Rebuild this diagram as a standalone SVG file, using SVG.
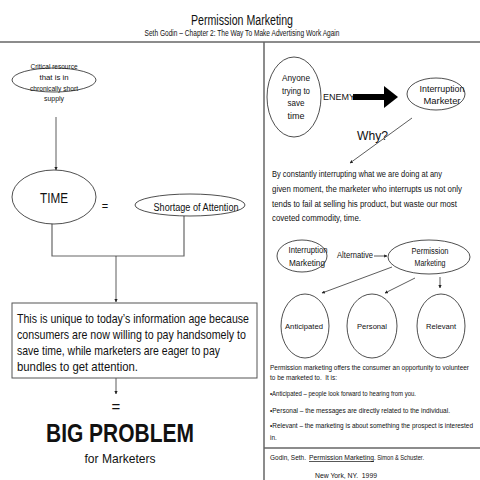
<svg xmlns="http://www.w3.org/2000/svg" width="480" height="480" viewBox="0 0 480 480">
<style>
text{font-family:"Liberation Sans",Arial,sans-serif;fill:#111}
.n{fill:#fff;stroke:#222;stroke-width:0.8}
.d{stroke:#666;stroke-width:1.5;fill:none}
.c{stroke:#333;stroke-width:0.8;fill:none}
</style>
<defs>
<marker id="a" viewBox="0 0 10 10" refX="9" refY="5" markerWidth="4" markerHeight="4" orient="auto"><path d="M0,0 L10,5 L0,10 z" fill="#222"/></marker>
</defs>
<rect width="480" height="480" fill="#fff"/>
<g id="title">
<text x="242" y="25" font-size="14" text-anchor="middle" textLength="102" lengthAdjust="spacingAndGlyphs">Permission Marketing</text>
<text x="242" y="36" font-size="8.5" text-anchor="middle" textLength="195" lengthAdjust="spacingAndGlyphs">Seth Godin – Chapter 2: The Way To Make Advertising Work Again</text>
</g>
<g id="dividers">
<line class="d" x1="0" y1="42" x2="480" y2="42"/>
<line class="d" x1="264" y1="42" x2="264" y2="480"/>
<line class="d" x1="264" y1="448" x2="480" y2="448"/>
</g>
<g id="connectors">
<line class="c" x1="56" y1="117" x2="56" y2="170" marker-end="url(#a)"/>
<polyline class="d" points="52,223 52,256 184,256 184,216" style="stroke-width:1.2"/>
<line class="c" x1="116" y1="256" x2="116" y2="302" marker-end="url(#a)"/>
<line class="c" x1="116" y1="378" x2="116" y2="394" marker-end="url(#a)"/>
<line x1="353" y1="97" x2="386" y2="97" stroke="#000" stroke-width="6"/>
<polygon points="384,86 398,97 384,108" fill="#000"/>
<line class="c" x1="412" y1="118" x2="350" y2="163" marker-end="url(#a)"/>
<line class="c" x1="374" y1="256" x2="387" y2="256" marker-end="url(#a)"/>
<line class="c" x1="392" y1="267" x2="322" y2="293" marker-end="url(#a)"/>
<line class="c" x1="415" y1="278" x2="385" y2="293" marker-end="url(#a)"/>
<line class="c" x1="440" y1="277" x2="440" y2="288" marker-end="url(#a)"/>
</g>
<g id="critical">
<ellipse class="n" cx="54" cy="80" rx="42" ry="12"/>
<text x="54" y="69" font-size="8" text-anchor="middle" textLength="47" lengthAdjust="spacingAndGlyphs">Critical resource</text>
<text x="54" y="80" font-size="8" text-anchor="middle" textLength="29" lengthAdjust="spacingAndGlyphs">that is in</text>
<text x="54" y="91" font-size="8" text-anchor="middle" textLength="48" lengthAdjust="spacingAndGlyphs">chronically short</text>
<text x="54" y="101" font-size="8" text-anchor="middle" textLength="20" lengthAdjust="spacingAndGlyphs">supply</text>
</g>
<g id="time">
<ellipse class="n" cx="54" cy="197" rx="42" ry="27"/>
<text x="54" y="203" font-size="14" text-anchor="middle" textLength="28" lengthAdjust="spacingAndGlyphs">TIME</text>
</g>
<g id="eq1"><text x="105" y="210" font-size="11" text-anchor="middle">=</text></g>
<g id="shortage">
<ellipse class="n" cx="190" cy="205" rx="55" ry="11"/>
<text x="196" y="211" font-size="10" text-anchor="middle" textLength="85" lengthAdjust="spacingAndGlyphs">Shortage of Attention</text>
</g>
<g id="unique">
<rect x="12" y="303" width="245" height="75" fill="#fff" stroke="#555" stroke-width="1"/>
<text x="17" y="323" font-size="13.5" textLength="232" lengthAdjust="spacingAndGlyphs">This is unique to today’s information age because</text>
<text x="17" y="339" font-size="13.5" textLength="229" lengthAdjust="spacingAndGlyphs">consumers are now willing to pay handsomely to</text>
<text x="17" y="355" font-size="13.5" textLength="203" lengthAdjust="spacingAndGlyphs">save time, while marketers are eager to pay</text>
<text x="17" y="371" font-size="13.5" textLength="121" lengthAdjust="spacingAndGlyphs">bundles to get attention.</text>
</g>
<g id="bigproblem">
<text x="116" y="412" font-size="15" text-anchor="middle">=</text>
<text x="120" y="442" font-size="25" font-weight="bold" text-anchor="middle" textLength="148" lengthAdjust="spacingAndGlyphs">BIG PROBLEM</text>
<text x="120" y="463" font-size="13" text-anchor="middle" textLength="71" lengthAdjust="spacingAndGlyphs">for Marketers</text>
</g>
<g id="anyone">
<ellipse class="n" cx="294" cy="97" rx="27" ry="40"/>
<text x="296" y="81" font-size="9" text-anchor="middle" textLength="28" lengthAdjust="spacingAndGlyphs">Anyone</text>
<text x="296" y="94" font-size="9" text-anchor="middle" textLength="28" lengthAdjust="spacingAndGlyphs">trying to</text>
<text x="296" y="106" font-size="9" text-anchor="middle" textLength="17" lengthAdjust="spacingAndGlyphs">save</text>
<text x="296" y="119" font-size="9" text-anchor="middle" textLength="17" lengthAdjust="spacingAndGlyphs">time</text>
</g>
<g id="enemy"><text x="323" y="100" font-size="9.5" textLength="32" lengthAdjust="spacingAndGlyphs">ENEMY</text></g>
<g id="intmarketer">
<ellipse class="n" cx="436" cy="94" rx="29" ry="16"/>
<text x="442" y="92" font-size="9.5" text-anchor="middle" textLength="45" lengthAdjust="spacingAndGlyphs">Interruption</text>
<text x="442" y="104" font-size="9.5" text-anchor="middle" textLength="37" lengthAdjust="spacingAndGlyphs">Marketer</text>
</g>
<g id="why"><text x="357" y="140" font-size="13" textLength="31" lengthAdjust="spacingAndGlyphs">Why?</text></g>
<g id="para1" font-size="8.5">
<text x="272" y="177" textLength="170" lengthAdjust="spacingAndGlyphs">By constantly interrupting what we are doing at any</text>
<text x="272" y="192" textLength="190" lengthAdjust="spacingAndGlyphs">given moment, the marketer who interrupts us not only</text>
<text x="272" y="207" textLength="185" lengthAdjust="spacingAndGlyphs">tends to fail at selling his product, but waste our most</text>
<text x="272" y="221" textLength="89" lengthAdjust="spacingAndGlyphs">coveted commodity, time.</text>
</g>
<g id="intmarketing">
<ellipse class="n" cx="302" cy="256" rx="25" ry="16"/>
<text x="308" y="253" font-size="8.5" text-anchor="middle" textLength="39" lengthAdjust="spacingAndGlyphs">Interruption</text>
<text x="307" y="266" font-size="8.5" text-anchor="middle" textLength="36" lengthAdjust="spacingAndGlyphs">Marketing</text>
</g>
<g id="alternative"><text x="337" y="258" font-size="8.5" textLength="36" lengthAdjust="spacingAndGlyphs">Alternative</text></g>
<g id="permmarketing">
<ellipse class="n" cx="429" cy="257" rx="41" ry="17"/>
<text x="430" y="254" font-size="8.5" text-anchor="middle" textLength="37" lengthAdjust="spacingAndGlyphs">Permission</text>
<text x="430" y="266" font-size="8.5" text-anchor="middle" textLength="31" lengthAdjust="spacingAndGlyphs">Marketing</text>
</g>
<g id="anticipated">
<ellipse class="n" cx="305" cy="326" rx="24" ry="32"/>
<text x="304" y="329" font-size="8" text-anchor="middle" textLength="38" lengthAdjust="spacingAndGlyphs">Anticipated</text>
</g>
<g id="personal">
<ellipse class="n" cx="372" cy="326" rx="25" ry="32"/>
<text x="372" y="329" font-size="8" text-anchor="middle" textLength="30" lengthAdjust="spacingAndGlyphs">Personal</text>
</g>
<g id="relevant">
<ellipse class="n" cx="441" cy="326" rx="24" ry="32"/>
<text x="441" y="329" font-size="8" text-anchor="middle" textLength="30" lengthAdjust="spacingAndGlyphs">Relevant</text>
</g>
<g id="para2" font-size="6.4">
<text x="270" y="370" textLength="199" lengthAdjust="spacingAndGlyphs">Permission marketing offers the consumer an opportunity to volunteer</text>
<text x="270" y="380" textLength="67" lengthAdjust="spacingAndGlyphs" xml:space="preserve">to be marketed to.  It is:</text>
<text x="270" y="396" textLength="146" lengthAdjust="spacingAndGlyphs">•Anticipated – people look forward to hearing from you.</text>
<text x="270" y="413" textLength="180" lengthAdjust="spacingAndGlyphs">•Personal – the messages are directly related to the individual.</text>
<text x="270" y="428" textLength="203" lengthAdjust="spacingAndGlyphs">•Relevant – the marketing is about something the prospect is interested</text>
<text x="270" y="440">in.</text>
</g>
<g id="citation" font-size="7">
<text x="270" y="460" textLength="36" lengthAdjust="spacingAndGlyphs">Godin, Seth.</text>
<text x="309" y="460" textLength="65" lengthAdjust="spacingAndGlyphs" text-decoration="underline">Permission Marketing</text>
<text x="374" y="460" textLength="50" lengthAdjust="spacingAndGlyphs">. Simon &amp; Schuster.</text>
<text x="315" y="478" xml:space="preserve" textLength="62" lengthAdjust="spacingAndGlyphs">New York, NY.  1999</text>
</g>
</svg>
